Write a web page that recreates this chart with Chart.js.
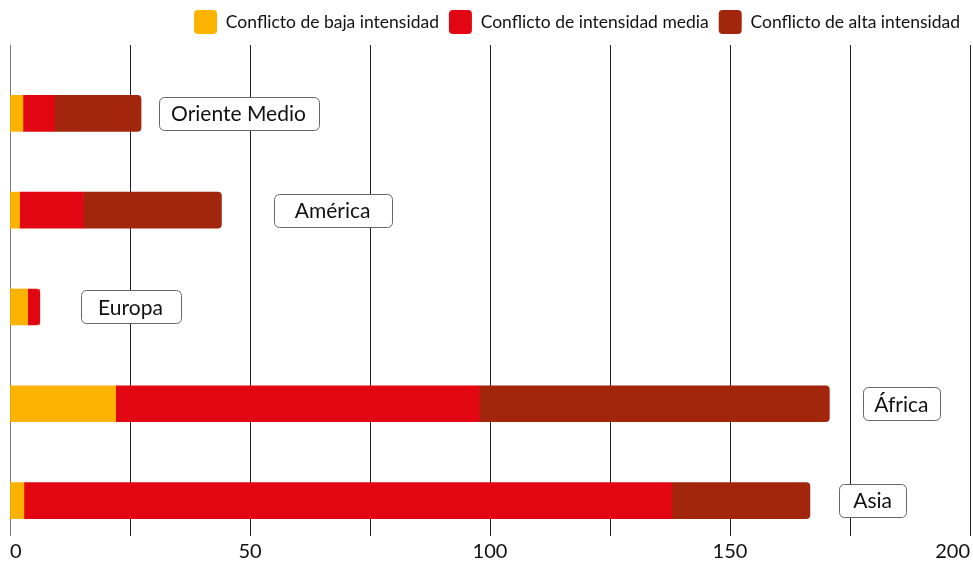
<!DOCTYPE html>
<html>
<head>
<meta charset="utf-8">
<script src="https://cdn.jsdelivr.net/npm/chart.js@4"></script>
<style>
  html, body { margin: 0; padding: 0; background: #fff; }
  #wrap { width: 973px; height: 568px; }
</style>
</head>
<body>
<div id="wrap"><canvas id="chart"></canvas></div>
<script>
const regions = ["Oriente Medio", "América", "Europa", "África", "Asia"];
const lowIntensity = [2.7, 2, 3.7, 22, 2.9];
const midIntensity = [6.5, 13.3, 2.5, 75.8, 135];
const highIntensity = [18.1, 28.75, 0, 72.9, 28.75];
// where each region's name box sits on the x axis (value units)
const labelAt = [47.6, 67.2, 25.1, 185.7, 179.7];
const xTicks = [0, 50, 100, 150, 200];

const seriesNames = ["Conflicto de baja intensidad", "Conflicto de intensidad media", "Conflicto de alta intensidad"];
const colors = ["#FCB300", "#E20613", "#A2260C"];
const series = [lowIntensity, midIntensity, highIntensity];
const boxPad = [12.5, 21, 17.5, 11.5, 14];

const FONT = "Lato, 'Open Sans', sans-serif";

// round only the outer end of each stacked bar
function endRadius(ctx) {
    const i = ctx.dataIndex;
    for (let d = series.length - 1; d >= 0; d--) {
        if (series[d][i] > 0) return d === ctx.datasetIndex ? 4 : 0;
    }
    return 0;
}

const regionLabels = {
    id: "regionLabels",
    beforeInit(chart) {
        const fit = chart.legend.fit;
        chart.legend.fit = function () {
            fit.call(this);
            this.height += 1;
        };
    },
    afterDatasetsDraw(chart) {
        const { ctx, scales } = chart;
        ctx.save();
        ctx.font = "21px " + FONT;
        ctx.textAlign = "center";
        ctx.textBaseline = "middle";
        regions.forEach((name, i) => {
            const cx = scales.x.getPixelForValue(labelAt[i]);
            const cy = scales.y.getPixelForValue(i);
            const w = ctx.measureText(name).width + boxPad[i] * 2;
            const h = 33;
            ctx.beginPath();
            ctx.roundRect(Math.round(cx - w / 2) + 0.5, Math.round(cy - h / 2) + 0.5, Math.round(w), h, 5);
            ctx.fillStyle = "#fff";
            ctx.fill();
            ctx.strokeStyle = "#666";
            ctx.lineWidth = 1;
            ctx.stroke();
            ctx.fillStyle = "#111";
            ctx.fillText(name, cx, cy + 1);
        });
        ctx.restore();
    }
};

new Chart(document.getElementById("chart"), {
    type: "bar",
    data: {
        datasets: series.map((data, d) => ({
            label: seriesNames[d],
            data: data.map((v, i) => ({ x: v, y: i })),
            backgroundColor: colors[d],
            borderWidth: 0,
            borderRadius: endRadius,
            borderSkipped: "start",
            barThickness: 36
        }))
    },
    options: {
        indexAxis: "y",
        responsive: true,
        maintainAspectRatio: false,
        animation: false,
        layout: { padding: { left: 10, right: 3, top: 0, bottom: 0 } },
        plugins: {
            legend: {
                position: "top",
                align: "end",
                labels: {
                    boxWidth: 23,
                    boxHeight: 24,
                    useBorderRadius: true,
                    borderRadius: 4,
                    padding: 10,
                    color: "#111",
                    font: { family: FONT, size: 17.5 }
                }
            },
            tooltip: { enabled: false }
        },
        scales: {
            x: {
                stacked: true,
                min: 0,
                max: 200,
                border: { display: false },
                grid: {
                    drawTicks: false,
                    lineWidth: 1,
                    color: c => c.tick && c.tick.value === 0 ? "#7a7a7a" : "#222"
                },
                ticks: {
                    stepSize: 25,
                    align: "inner",
                    padding: 0,
                    color: "#111",
                    font: { family: FONT, size: 20, lineHeight: 1.6 },
                    callback: v => xTicks.includes(v) ? String(v) : ""
                }
            },
            y: {
                type: "linear",
                stacked: true,
                reverse: true,
                offset: false,
                min: -0.706,
                max: 4.366,
                display: false
            }
        }
    },
    plugins: [regionLabels]
});
</script>
</body>
</html>
